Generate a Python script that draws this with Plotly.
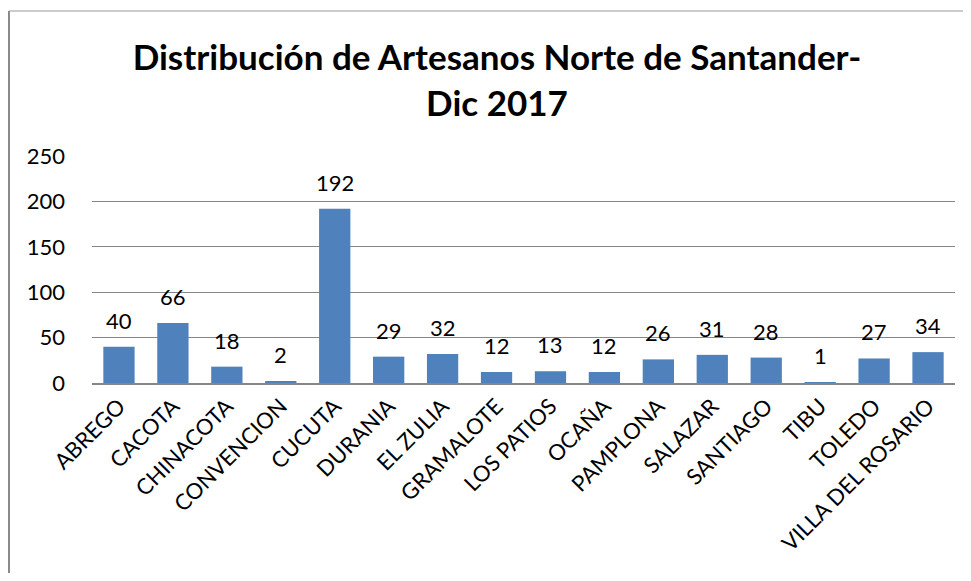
import plotly.graph_objects as go

categories = ["ABREGO", "CACOTA", "CHINACOTA", "CONVENCION", "CUCUTA", "DURANIA",
              "EL ZULIA", "GRAMALOTE", "LOS PATIOS", "OCAÑA", "PAMPLONA", "SALAZAR",
              "SANTIAGO", "TIBU", "TOLEDO", "VILLA DEL ROSARIO"]
values = [40, 66, 18, 2, 192, 29, 32, 12, 13, 12, 26, 31, 28, 1, 27, 34]
y_ticks = [0, 50, 100, 150, 200, 250]
title_lines = ["Distribución de Artesanos Norte de Santander-", "Dic 2017"]

# page body has an 8px default margin on every side; keep the figure inside the viewport
OFF = 8
W, H = 971 - 2 * OFF, 581 - 2 * OFF
ml, mt = 92 - OFF, 156 - OFF
mr = W - (955 - OFF)
mb = H - (383 - OFF)
pw, ph = W - ml - mr, H - mt - mb

FONT = "Lato, 'Open Sans', sans-serif"

fig = go.Figure(go.Bar(
    x=categories, y=values,
    marker=dict(color="#4F81BD", line=dict(width=0)),
))

annotations = [
    dict(x=c, y=v, text=str(v), showarrow=False, xref="x", yref="y",
         yanchor="bottom", yshift=11, font=dict(family=FONT, size=22, color="#000"))
    for c, v in zip(categories, values)
]

# frame: left and top edges of the chart area (right/bottom lie outside the view)
fx0 = (9 - OFF - ml) / pw
fx1 = (W + 20 - ml) / pw
fy0 = -(H + 20 - mt - ph) / ph
fy1 = 1 + (mt - (11 - OFF)) / ph

fig.update_layout(
    width=W, height=H,
    margin=dict(l=ml, r=mr, t=mt, b=mb, pad=0),
    paper_bgcolor="white", plot_bgcolor="white",
    showlegend=False,
    title=dict(text="<br>".join("<b>" + t + "</b>" for t in title_lines),
               x=(497 - OFF) / W, xanchor="center", y=1 - (70 - OFF) / H, yanchor="middle",
               font=dict(family=FONT, size=35, color="#000")),
    font=dict(family=FONT, color="#000"),
    annotations=annotations,
    bargap=0.42,
    shapes=[
        dict(type="line", xref="paper", yref="paper", x0=fx0, x1=fx0, y0=fy0, y1=fy1,
             line=dict(color="#8a8a8a", width=2), layer="below"),
        dict(type="line", xref="paper", yref="paper", x0=fx0, x1=fx1, y0=fy1, y1=fy1,
             line=dict(color="#9a9a9a", width=1.2), layer="below"),
    ],
)
fig.update_xaxes(tickangle=-45, tickfont=dict(family=FONT, size=22, color="#000"),
                 showline=True, linecolor="#868686", linewidth=1.5, ticks="",
                 showgrid=False)
fig.update_yaxes(range=[0, 250], tickvals=y_ticks, tickfont=dict(family=FONT, size=22, color="#000"),
                 showgrid=True, gridcolor="#868686", gridwidth=1.2, zeroline=False,
                 showline=False, ticks="", ticklabelstandoff=26)

fig.write_html("out.html")
